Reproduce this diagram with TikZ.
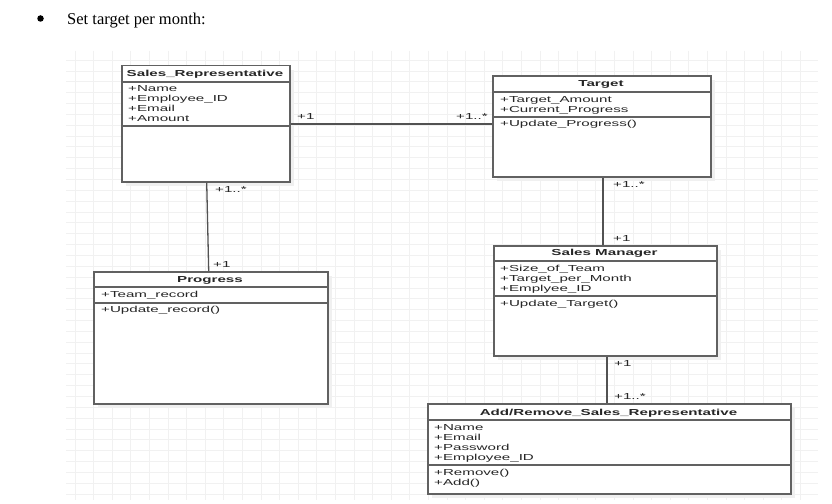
\documentclass[tikz,border=0pt]{standalone}
\usepackage{fontspec}
\newfontfamily\umlfont[FakeStretch=1.74]{Liberation Sans}
\newfontfamily\docfont{Liberation Serif}
\usetikzlibrary{calc,shadows}

\tikzset{
  gridline/.style={draw=black!5.5, line width=0.7},
  umlbox/.style={draw=black!62, line width=1.5, fill=white, inner sep=0, anchor=north west,
    general shadow={fill=black!6, shadow xshift=4pt, shadow yshift=-4pt}},
  sepline/.style={draw=black!62, line width=1.2},
  conn/.style={draw=black!68, line width=1.3},
  txt/.style={font=\umlfont\fontsize{8.7}{10}\selectfont, text=black!85, inner sep=0, anchor=base west},
  ttl/.style={txt, font=\umlfont\bfseries\fontsize{8.7}{10}\selectfont, anchor=base},
}

\begin{document}
\begin{tikzpicture}[x=1pt,y=-1pt]
\useasboundingbox (0,0) rectangle (832,503);
\fill[white] (0,0) rectangle (832,503);

% heading line of the document
\node[circle, fill=black, inner sep=0, minimum size=6.5] (bul) at (40.5,18.5) {};
\node[anchor=base west, inner sep=0, font=\docfont\fontsize{16.5}{18}\selectfont] (hdr) at (67,24.5) {Set target per month:};

% drawing canvas grid
\foreach \i in {0,...,39} \draw[gridline] ({75+18.6*\i},51) -- ({75+18.6*\i},500);
\foreach \j in {0,...,40} \draw[gridline] (66,{60+10.85*\j}) -- (818,{60+10.85*\j});

% ---- Sales_Representative ----
\node[umlbox, minimum width=168, minimum height=116] (sr) at (121,65) {};
\draw[sepline] (sr.west |- 0,82) -- (sr.east |- 0,82);
\draw[sepline] (sr.west |- 0,126) -- (sr.east |- 0,126);
\node[ttl] (sr-t) at (205,76.3) {Sales\_Representative};
\foreach \t [count=\k from 0] in {+Name,+Employee\_ID,+Email,+Amount}
  \node[txt] (sr-a\k) at (128,{91.2+10*\k}) {\t};

% ---- Target ----
\node[umlbox, minimum width=218, minimum height=101] (tg) at (492,75) {};
\draw[sepline] (tg.west |- 0,92) -- (tg.east |- 0,92);
\draw[sepline] (tg.west |- 0,117) -- (tg.east |- 0,117);
\node[ttl] (tg-t) at (601,86.3) {Target};
\foreach \t [count=\k from 0] in {+Target\_Amount,+Current\_Progress}
  \node[txt] (tg-a\k) at (500,{102.2+10*\k}) {\t};
\node[txt] (tg-m0) at (500,126.2) {+Update\_Progress()};

% ---- Progress ----
\node[umlbox, minimum width=234, minimum height=132] (pg) at (93,271) {};
\draw[sepline] (pg.west |- 0,287) -- (pg.east |- 0,287);
\draw[sepline] (pg.west |- 0,303) -- (pg.east |- 0,303);
\node[ttl] (pg-t) at (210,282.3) {Progress};
\node[txt] (pg-a0) at (101,297.2) {+Team\_record};
\node[txt] (pg-m0) at (101,312.2) {+Update\_record()};

% ---- Sales Manager ----
\node[umlbox, minimum width=223, minimum height=110] (sm) at (493,245) {};
\draw[sepline] (sm.west |- 0,261) -- (sm.east |- 0,261);
\draw[sepline] (sm.west |- 0,296) -- (sm.east |- 0,296);
\node[ttl] (sm-t) at (604.5,255.3) {Sales Manager};
\foreach \t [count=\k from 0] in {+Size\_of\_Team,+Target\_per\_Month,+Emplyee\_ID}
  \node[txt] (sm-a\k) at (500,{271.2+10*\k}) {\t};
\node[txt] (sm-m0) at (500,306.2) {+Update\_Target()};

% ---- Add/Remove_Sales_Representative ----
\node[umlbox, minimum width=363, minimum height=90] (ar) at (427,403) {};
\draw[sepline] (ar.west |- 0,420) -- (ar.east |- 0,420);
\draw[sepline] (ar.west |- 0,465) -- (ar.east |- 0,465);
\node[ttl] (ar-t) at (608.5,415.3) {Add/Remove\_Sales\_Representative};
\foreach \t [count=\k from 0] in {+Name,+Email,+Password,+Employee\_ID}
  \node[txt] (ar-a\k) at (434,{430.2+10*\k}) {\t};
\foreach \t [count=\k from 0] in {+Remove(),+Add()}
  \node[txt] (ar-m\k) at (434,{475.2+10*\k}) {\t};

% ---- associations ----
\draw[conn] (sr.east |- 0,124) -- (tg.west |- 0,124);
\draw[conn] (sr.south -| 206.7,0) -- (pg.north -| 208.7,0);
\draw[conn] (tg.south -| 603,0) -- (sm.north -| 603,0);
\draw[conn] (sm.south -| 607,0) -- (ar.north -| 607,0);

% multiplicities
\node[txt] (m-sr-tg) at (297,119.1) {+1};
\node[txt] (m-tg-sr) at (456,119.1) {+1..*};
\node[txt] (m-sr-pg) at (215,192.1) {+1..*};
\node[txt] (m-pg-sr) at (213,267.1) {+1};
\node[txt] (m-tg-sm) at (613,187.1) {+1..*};
\node[txt] (m-sm-tg) at (613,241.1) {+1};
\node[txt] (m-sm-ar) at (614,366.6) {+1};
\node[txt] (m-ar-sm) at (614,399.6) {+1..*};
\end{tikzpicture}
\end{document}
